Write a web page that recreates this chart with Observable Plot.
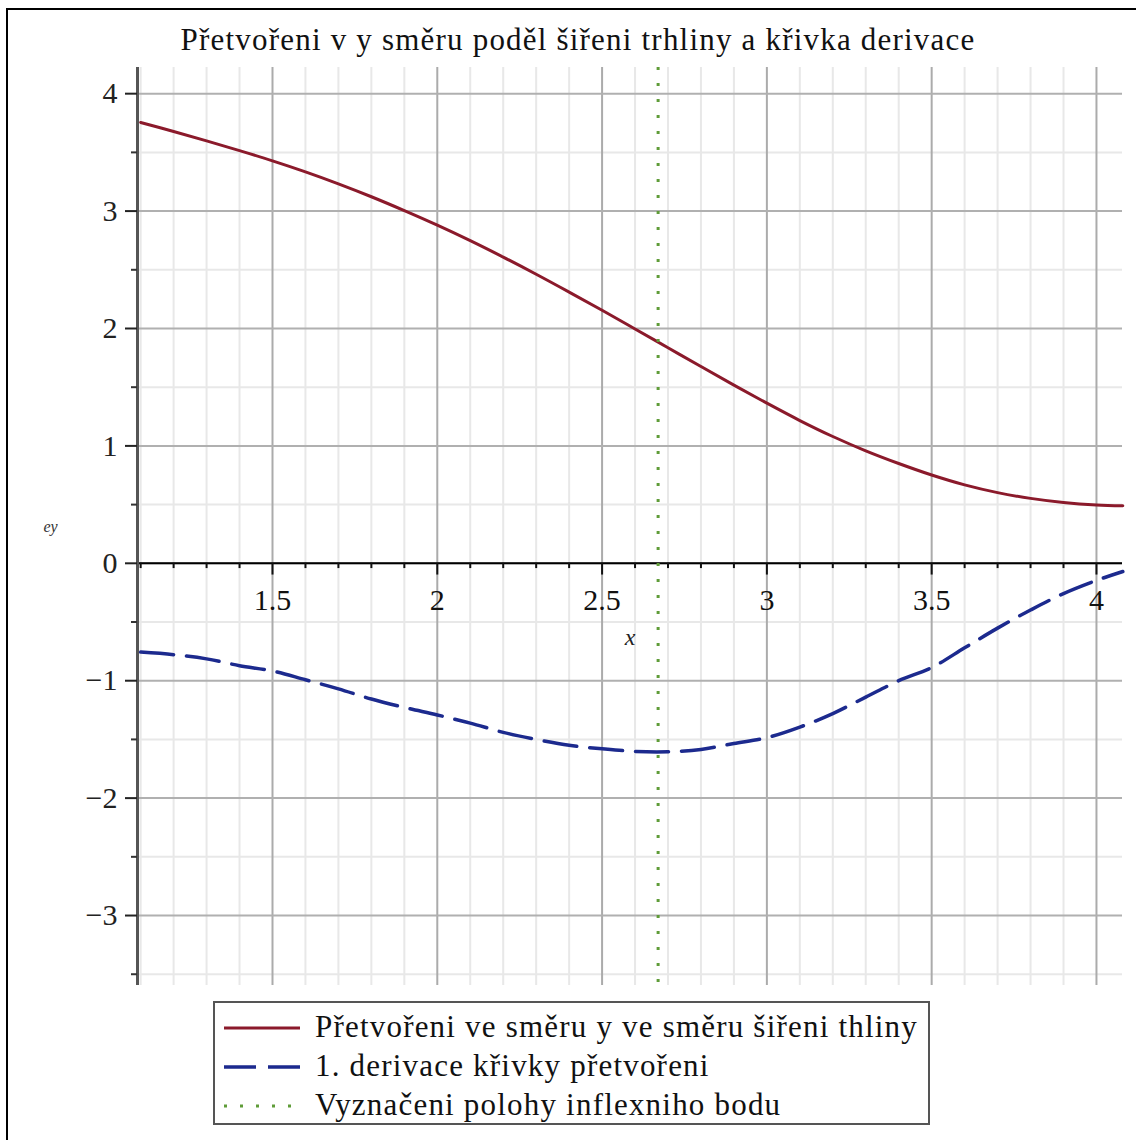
<!DOCTYPE html>
<html><head><meta charset="utf-8">
<script src="https://cdn.jsdelivr.net/npm/d3@7"></script>
<script src="https://cdn.jsdelivr.net/npm/@observablehq/plot@0.6"></script>
<style>
body{margin:0;background:#fff;overflow:hidden;font-family:"Liberation Serif",serif;}
#page{position:relative;width:1136px;height:1140px;overflow:hidden;background:#fff;}
#border{position:absolute;left:6px;top:8px;width:1200px;height:1200px;border:2px solid #000;}
#title{position:absolute;top:24px;left:10px;width:1136px;text-align:center;font-size:31px;letter-spacing:1.2px;line-height:1;color:#111;white-space:nowrap;}
#chart{position:absolute;left:0;top:0;}
#legend{position:absolute;left:213px;top:1001px;width:713px;height:120px;border:2px solid #555;background:#fff;}
.row{position:absolute;left:0;height:36px;width:100%;}
.row svg{position:absolute;left:7px;top:0;}
.row span{position:absolute;left:100px;top:2px;font-size:31px;letter-spacing:1.2px;line-height:32px;color:#111;white-space:nowrap;}
</style></head>
<body><div id="page"><div id="border"></div><div id="chart"></div><div id="title"></div><div id="legend"></div></div>
<script>
const titleText = "Přetvořeni v y směru poděl šiřeni trhliny a křivka derivace";
const seriesNames = ["Přetvořeni ve směru y ve směru šiřeni thliny", "1. derivace křivky přetvořeni", "Vyznačeni polohy inflexniho bodu"];
const xLabel = "x";
const yLabel = "ey";

const xValues = [1.1,1.2,1.3,1.4,1.5,1.6,1.7,1.8,1.9,2.0,2.1,2.2,2.3,2.4,2.5,2.6,2.7,2.8,2.9,3.0,3.1,3.2,3.3,3.4,3.5,3.6,3.7,3.8,3.9,4.0,4.08];
const strainValues = [3.755,3.678,3.598,3.515,3.428,3.334,3.232,3.122,3.004,2.88,2.748,2.608,2.462,2.31,2.155,1.996,1.836,1.676,1.518,1.364,1.216,1.08,0.958,0.85,0.752,0.668,0.602,0.553,0.518,0.497,0.49];
const derivValues = [-0.756,-0.778,-0.814,-0.872,-0.917,-0.992,-1.069,-1.156,-1.228,-1.292,-1.361,-1.44,-1.5,-1.55,-1.58,-1.602,-1.605,-1.585,-1.535,-1.485,-1.395,-1.28,-1.14,-1.0,-0.888,-0.72,-0.552,-0.398,-0.258,-0.146,-0.07];
const inflexionX = [2.67];

const xMajor = [1.5,2,2.5,3,3.5,4];
const xMinor = [1.1,1.2,1.3,1.4,1.6,1.7,1.8,1.9,2.1,2.2,2.3,2.4,2.6,2.7,2.8,2.9,3.1,3.2,3.3,3.4,3.6,3.7,3.8,3.9];
const xTickLabels = ["1.5","2","2.5","3","3.5","4"];
const yMajor = [-3,-2,-1,0,1,2,3,4];
const yMinor = [-3.5,-2.5,-1.5,-0.5,0.5,1.5,2.5,3.5];
const xDomain = [1.0904, 4.079];
const yDomain = [-3.596, 4.223];

const colors = {strain:"#8b1a2b", deriv:"#1c2a8e", inflex:"#5f9c38"};
const serif = "Liberation Serif, Times New Roman, serif";

const strain = xValues.map((x,i)=>({x, y: strainValues[i]}));
const deriv = xValues.map((x,i)=>({x, y: derivValues[i]}));

const chart = Plot.plot({
  width:1136, height:1000,
  marginLeft:137, marginRight:14, marginTop:67, marginBottom:15,
  style:{background:"transparent"},
  x:{domain:xDomain, axis:null},
  y:{domain:yDomain, label:null},
  marks:[
    Plot.ruleX(xMinor, {stroke:"#e8e8e8", strokeWidth:2}),
    Plot.ruleY(yMinor, {stroke:"#e8e8e8", strokeWidth:2}),
    Plot.ruleX(xMajor, {stroke:"#ababab", strokeWidth:2}),
    Plot.ruleY(yMajor, {stroke:"#b0b0b0", strokeWidth:2}),
    Plot.ruleY([0], {stroke:"#000", strokeWidth:2}),
    Plot.ruleX([xDomain[0]], {stroke:"#555", strokeWidth:3}),
    Plot.ruleX(xMajor, {x:d=>d, y1:()=>0, y2:()=>-0.1, stroke:"#111", strokeWidth:2}),
    Plot.ruleX(xMinor, {x:d=>d, y1:()=>0, y2:()=>-0.045, stroke:"#111", strokeWidth:2}),
    Plot.axisY(yMajor, {tickSize:12, tickPadding:8, fontSize:30, fontFamily:serif, color:"#222", strokeWidth:2, label:null, tickFormat:d=>d<0?"\u2212"+Math.abs(d):String(d)}),
    Plot.axisY(yMinor, {tickSize:6, strokeWidth:2, color:"#333", label:null, tickFormat:()=>""}),
    Plot.text(xMajor, {x:d=>d, y:()=>0, text:(d,i)=>xTickLabels[i], dy:37, fontSize:30, fontFamily:serif, fill:"#111"}),
    Plot.text([xLabel], {y:()=>0, frameAnchor:"middle", dy:74, fontSize:24, fontStyle:"italic", fontFamily:serif, fill:"#222"}),
    Plot.text([yLabel], {frameAnchor:"left", dx:-94, fontSize:16, fontStyle:"italic", fontFamily:serif, fill:"#333"}),
    Plot.line(strain, {x:"x", y:"y", stroke:colors.strain, strokeWidth:3, curve:"catmull-rom"}),
    Plot.line(deriv, {x:"x", y:"y", stroke:colors.deriv, strokeWidth:3.5, strokeDasharray:"33,13", curve:"catmull-rom"}),
    Plot.ruleX(inflexionX, {stroke:colors.inflex, strokeWidth:3, strokeDasharray:"3,13"})
  ]
});
document.getElementById("chart").append(chart);
document.getElementById("title").textContent = titleText;

const legendStyles = [
  {stroke:colors.strain, dash:null, width:3},
  {stroke:colors.deriv, dash:"32,12", width:3.5},
  {stroke:colors.inflex, dash:"3,13", width:3}
];
const legend = d3.select("#legend");
seriesNames.forEach((name,i)=>{
  const row = legend.append("div").attr("class","row").style("top",(6+i*39)+"px");
  const svg = row.append("svg").attr("width",80).attr("height",36);
  svg.append("line").attr("x1",2).attr("x2",78).attr("y1",19).attr("y2",19)
    .attr("stroke",legendStyles[i].stroke).attr("stroke-width",legendStyles[i].width)
    .attr("stroke-dasharray",legendStyles[i].dash);
  row.append("span").text(name);
});
</script></body></html>
